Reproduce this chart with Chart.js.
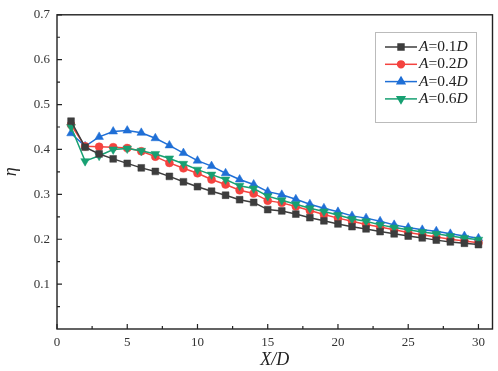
<!DOCTYPE html>
<html>
<head>
<meta charset="utf-8">
<script src="https://cdn.jsdelivr.net/npm/chart.js@4/dist/chart.umd.min.js"></script>
<style>
  html, body { margin: 0; padding: 0; background: #fff; }
  #wrap { width: 498px; height: 371px; }
</style>
</head>
<body>
<div id="wrap"><canvas id="eta_chart" width="498" height="371"></canvas></div>
<script>
// X/D positions
var xd = [1, 2, 3, 4, 5, 6, 7, 8, 9, 10, 11, 12, 13, 14, 15, 16, 17, 18, 19, 20, 21, 22, 23, 24, 25, 26, 27, 28, 29, 30];

// eta for each amplitude
var eta_a01 = [0.463, 0.405, 0.390, 0.379, 0.369, 0.359, 0.351, 0.340, 0.328, 0.317, 0.307, 0.298, 0.288, 0.282, 0.266, 0.263, 0.256, 0.248, 0.241, 0.234, 0.228, 0.223, 0.217, 0.212, 0.207, 0.203, 0.198, 0.194, 0.191, 0.188];
var eta_a02 = [0.455, 0.407, 0.406, 0.405, 0.403, 0.396, 0.384, 0.370, 0.358, 0.347, 0.333, 0.322, 0.309, 0.302, 0.286, 0.281, 0.273, 0.264, 0.255, 0.247, 0.240, 0.233, 0.227, 0.221, 0.215, 0.210, 0.205, 0.200, 0.196, 0.192];
var eta_a04 = [0.436, 0.407, 0.428, 0.440, 0.442, 0.437, 0.425, 0.409, 0.392, 0.375, 0.363, 0.347, 0.333, 0.322, 0.306, 0.299, 0.289, 0.278, 0.269, 0.261, 0.252, 0.247, 0.240, 0.232, 0.226, 0.221, 0.218, 0.212, 0.207, 0.202];
var eta_a06 = [0.450, 0.374, 0.386, 0.400, 0.402, 0.397, 0.390, 0.380, 0.368, 0.355, 0.344, 0.333, 0.319, 0.313, 0.296, 0.287, 0.278, 0.269, 0.262, 0.254, 0.245, 0.240, 0.232, 0.226, 0.221, 0.216, 0.212, 0.207, 0.203, 0.199];

var seriesNames = ['0.1', '0.2', '0.4', '0.6'];

// tick labels
var xTicks = [0, 5, 10, 15, 20, 25, 30];
var xMinor = [2.5, 7.5, 12.5, 17.5, 22.5, 27.5];
var yTicks = [0.1, 0.2, 0.3, 0.4, 0.5, 0.6, 0.7];
var yMinor = [0.05, 0.15, 0.25, 0.35, 0.45, 0.55, 0.65];

var colors = ['#3d3d3d', '#f4433f', '#1f6fd6', '#17a072'];
var styles = ['rect', 'circle', 'triangle', 'triangle'];
var rotations = [0, 0, 0, 180];
var radii = [4.8, 4, 5, 5];
var drawOrder = [0, 2, 3, 1];
var allSeries = [eta_a01, eta_a02, eta_a04, eta_a06];

function makeSet(i) {
    return {
        label: 'A=' + seriesNames[i] + 'D',
        data: xd.map(function (x, k) { return { x: x, y: allSeries[i][k] }; }),
        borderColor: colors[i],
        backgroundColor: colors[i],
        pointStyle: styles[i],
        rotation: rotations[i],
        pointRadius: radii[i],
        pointBorderWidth: 0.5,
        borderWidth: 1.5,
        order: drawOrder[i],
        tension: 0
    };
}

// box, inward ticks and the legend are drawn here
var framePlugin = {
    id: 'frame',
    afterDatasetsDraw: function (chart) {
        var c = chart.ctx, a = chart.chartArea;
        var sx = chart.scales.x, sy = chart.scales.y;
        c.save();
        c.strokeStyle = '#222';
        c.lineWidth = 1.4;
        c.strokeRect(a.left, a.top, a.right - a.left, a.bottom - a.top);
        c.lineWidth = 1.2;
        c.beginPath();
        xTicks.forEach(function (v) { var p = sx.getPixelForValue(v); c.moveTo(p, a.bottom); c.lineTo(p, a.bottom - 5); });
        xMinor.forEach(function (v) { var p = sx.getPixelForValue(v); c.moveTo(p, a.bottom); c.lineTo(p, a.bottom - 3); });
        yTicks.forEach(function (v) { var p = sy.getPixelForValue(v); c.moveTo(a.left, p); c.lineTo(a.left + 5, p); });
        yMinor.forEach(function (v) { var p = sy.getPixelForValue(v); c.moveTo(a.left, p); c.lineTo(a.left + 3, p); });
        c.stroke();

        // legend
        c.strokeStyle = '#bbb';
        c.lineWidth = 1;
        c.strokeRect(375.5, 32.5, 101, 90);
        chart.data.datasets.forEach(function (ds, i) {
            var y = 47 + i * 17.3;
            c.strokeStyle = colors[i];
            c.lineWidth = 1.5;
            c.beginPath(); c.moveTo(385, y); c.lineTo(417, y); c.stroke();
            Chart.helpers.drawPoint(c, { pointStyle: styles[i], rotation: rotations[i], radius: radii[i] - 0.6, borderWidth: 0.5 }, 401, y);
            c.fillStyle = colors[i];
            c.fill();
            c.fillStyle = '#222';
            c.textBaseline = 'middle';
            var x = 419;
            c.font = 'italic 15.5px "Liberation Serif"';
            c.fillText('A', x, y); x += c.measureText('A').width;
            c.font = '15.5px "Liberation Serif"';
            var mid = '=' + seriesNames[i];
            c.fillText(mid, x, y); x += c.measureText(mid).width;
            c.font = 'italic 15.5px "Liberation Serif"';
            c.fillText('D', x, y);
        });
        c.restore();
    }
};

var ctx = document.getElementById('eta_chart').getContext('2d');
var etaChart = new Chart(ctx, {
    type: 'line',
    data: { datasets: [0, 1, 2, 3].map(makeSet) },
    options: {
        responsive: false,
        animation: false,
        layout: { padding: { top: 12, right: 5, left: 0, bottom: 0 } },
        plugins: {
            legend: { display: false },
            tooltip: { enabled: false }
        },
        scales: {
            x: {
                type: 'linear',
                min: 0,
                max: 31,
                afterBuildTicks: function (s) { s.ticks = xTicks.map(function (v) { return { value: v }; }); },
                afterFit: function (s) { s.height = 42; },
                grid: { display: false, drawTicks: false },
                border: { display: false },
                ticks: {
                    padding: 6,
                    color: '#333',
                    maxRotation: 0,
                    font: { family: '"Liberation Serif", serif', size: 13 }
                },
                title: {
                    display: true,
                    text: 'X/D',
                    color: '#222',
                    padding: { top: 0, bottom: 0 },
                    font: { family: '"Liberation Serif", serif', size: 18, style: 'italic' }
                }
            },
            y: {
                min: 0,
                max: 0.7,
                afterBuildTicks: function (s) { s.ticks = yTicks.map(function (v) { return { value: v }; }); },
                afterFit: function (s) { s.width = 57; },
                grid: { display: false, drawTicks: false },
                border: { display: false },
                ticks: {
                    padding: 7,
                    color: '#333',
                    font: { family: '"Liberation Serif", serif', size: 13 },
                    callback: function (v) { return v.toFixed(1); }
                },
                title: {
                    display: true,
                    text: 'η',
                    color: '#222',
                    padding: { top: 0, bottom: 4 },
                    font: { family: '"Liberation Serif", serif', size: 18, style: 'italic' }
                }
            }
        }
    },
    plugins: [framePlugin]
});
</script>
</body>
</html>
